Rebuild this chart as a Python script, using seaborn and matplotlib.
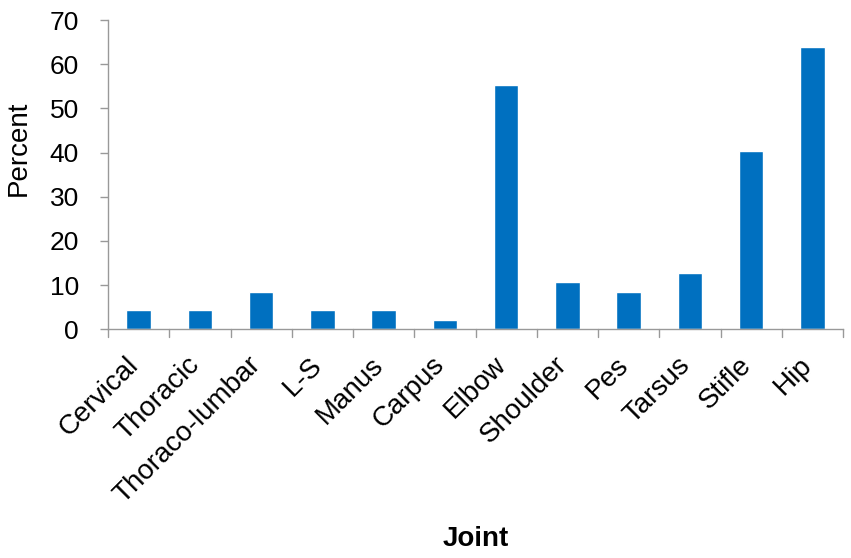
import matplotlib
matplotlib.use("Agg")
import matplotlib.pyplot as plt
import matplotlib.transforms as mtransforms
import seaborn as sns
import pandas as pd

joints = ["Cervical", "Thoracic", "Thoraco-lumbar", "L-S", "Manus", "Carpus",
          "Elbow", "Shoulder", "Pes", "Tarsus", "Stifle", "Hip"]
percent = [4.3, 4.3, 8.5, 4.3, 4.3, 2.1, 55.3, 10.6, 8.5, 12.8, 40.4, 63.8]
yticks = [0, 10, 20, 30, 40, 50, 60, 70]

sns.set_theme(style="white")
plt.rcParams['font.family'] = ['Liberation Sans', 'DejaVu Sans']

df = pd.DataFrame({"Joint": joints, "Percent": percent})

fig = plt.figure(figsize=(8.51, 5.58), dpi=100)
ax = fig.add_axes([0.127, 0.410, 0.8636, 0.554])
sns.barplot(data=df, x="Joint", y="Percent", color="#0070C0", saturation=1,
            width=0.4, ax=ax)

ax.set_xlim(-0.5, len(joints) - 0.5)
ax.set_ylim(0, 70)
ax.set_yticks(yticks)
ax.set_yticklabels([str(v) for v in yticks], fontsize=19, color="#000000")
ax.set_xticks(range(len(joints)))
ax.set_xticklabels(joints, rotation=45, ha="right", va="center",
                   rotation_mode="anchor", fontsize=20, color="#000000")
ax.tick_params(axis="x", length=0, pad=10)
ax.tick_params(axis="y", length=6, color="#999999", width=1, pad=15, left=True)

offset = mtransforms.ScaledTranslation(-4 / 100, -18 / 100, fig.dpi_scale_trans)
for lbl in ax.get_xticklabels():
    lbl.set_transform(lbl.get_transform() + offset)

# boundary ticks on x-axis (Excel style)
for b in [i - 0.5 for i in range(len(joints) + 1)]:
    ax.plot([b, b], [0, -1.7], color="#999999", lw=1, clip_on=False)

for s in ["top", "right"]:
    ax.spines[s].set_visible(False)
for s in ["left", "bottom"]:
    ax.spines[s].set_color("#999999")
    ax.spines[s].set_linewidth(1)

ax.set_ylabel("Percent", fontsize=20, color="#000000")
ax.yaxis.label.set_va("center")
ax.yaxis.set_label_coords(-0.122, 0.585)
ax.set_xlabel("Joint", fontsize=20, fontweight="bold", color="#000000")
ax.xaxis.label.set_va("center")
ax.xaxis.set_label_coords(0.5, -0.68)

fig.savefig("out.png", dpi=100)
